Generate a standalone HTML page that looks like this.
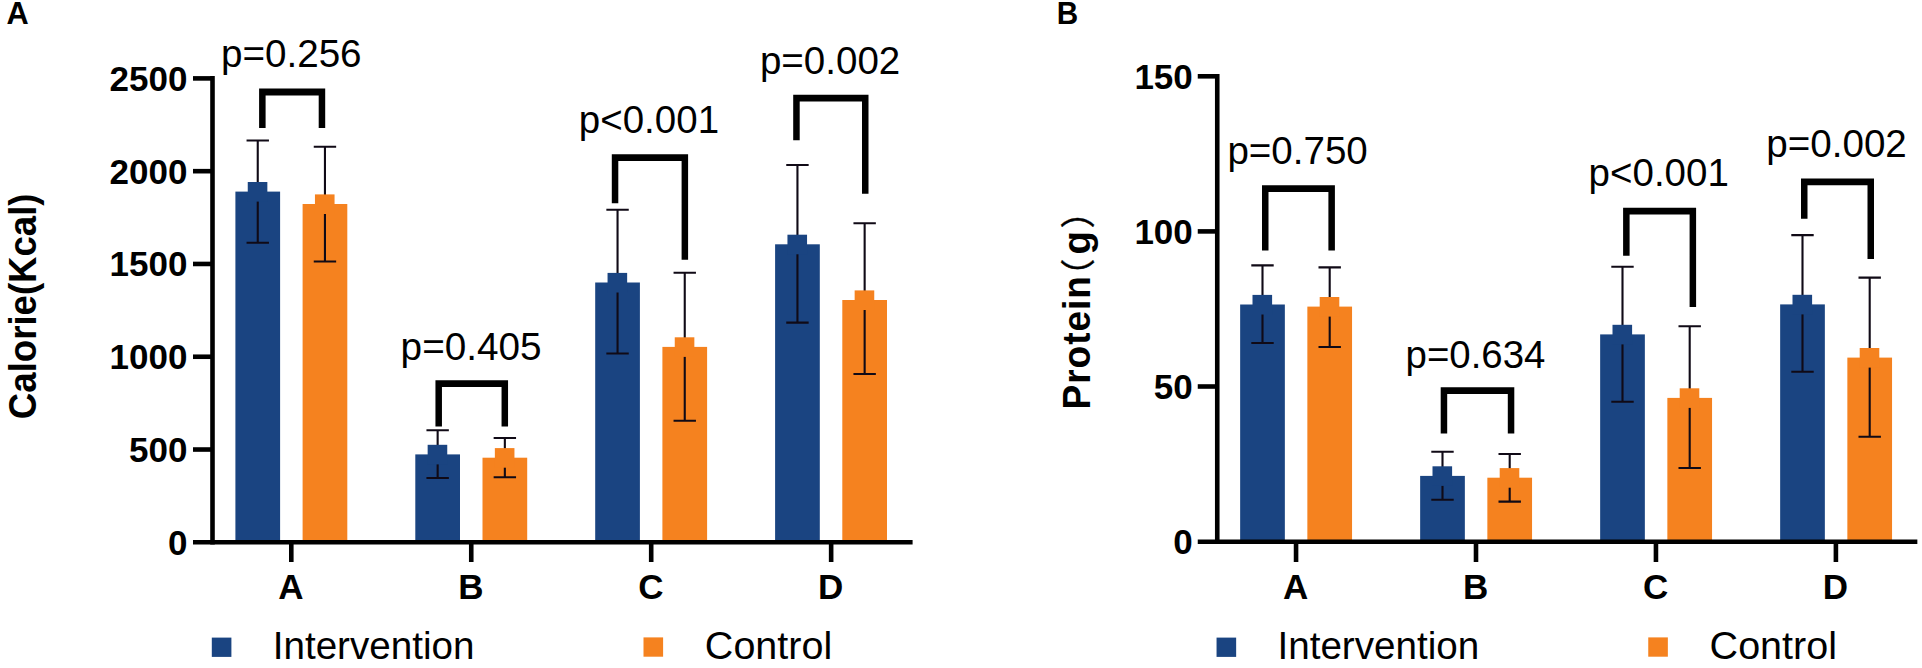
<!DOCTYPE html>
<html><head><meta charset="utf-8"><title>Figure</title>
<style>html,body{margin:0;padding:0;background:#fff}svg{display:block}text{font-family:"Liberation Sans","Noto Sans CJK SC",sans-serif;fill:#000}</style>
</head><body>
<svg width="1922" height="668" viewBox="0 0 1922 668">
<rect width="1922" height="668" fill="#fff"/>
<rect x="235.40" y="191.60" width="44.70" height="350.70" fill="#1a4481"/>
<path d="M257.75 140.50V242.75M246.55 140.50H268.95M246.55 242.75H268.95" stroke="#100a16" stroke-width="2.1" fill="none"/>
<rect x="247.75" y="182.00" width="19.6" height="19.6" fill="#1a4481"/>
<rect x="302.60" y="204.00" width="44.70" height="338.30" fill="#f5821f"/>
<path d="M324.95 146.75V261.50M313.75 146.75H336.15M313.75 261.50H336.15" stroke="#100a16" stroke-width="2.1" fill="none"/>
<rect x="314.95" y="194.40" width="19.6" height="19.6" fill="#f5821f"/>
<rect x="415.30" y="454.40" width="44.70" height="87.90" fill="#1a4481"/>
<path d="M437.65 430.30V478.00M426.45 430.30H448.85M426.45 478.00H448.85" stroke="#100a16" stroke-width="2.1" fill="none"/>
<rect x="427.65" y="444.80" width="19.6" height="19.6" fill="#1a4481"/>
<rect x="482.50" y="457.70" width="44.70" height="84.60" fill="#f5821f"/>
<path d="M504.85 438.00V477.20M493.65 438.00H516.05M493.65 477.20H516.05" stroke="#100a16" stroke-width="2.1" fill="none"/>
<rect x="494.85" y="448.10" width="19.6" height="19.6" fill="#f5821f"/>
<rect x="595.20" y="282.50" width="44.70" height="259.80" fill="#1a4481"/>
<path d="M617.55 209.70V353.50M606.35 209.70H628.75M606.35 353.50H628.75" stroke="#100a16" stroke-width="2.1" fill="none"/>
<rect x="607.55" y="272.90" width="19.6" height="19.6" fill="#1a4481"/>
<rect x="662.40" y="346.90" width="44.70" height="195.40" fill="#f5821f"/>
<path d="M684.75 272.80V420.70M673.55 272.80H695.95M673.55 420.70H695.95" stroke="#100a16" stroke-width="2.1" fill="none"/>
<rect x="674.75" y="337.30" width="19.6" height="19.6" fill="#f5821f"/>
<rect x="775.10" y="244.30" width="44.70" height="298.00" fill="#1a4481"/>
<path d="M797.45 165.00V322.60M786.25 165.00H808.65M786.25 322.60H808.65" stroke="#100a16" stroke-width="2.1" fill="none"/>
<rect x="787.45" y="234.70" width="19.6" height="19.6" fill="#1a4481"/>
<rect x="842.30" y="300.00" width="44.70" height="242.30" fill="#f5821f"/>
<path d="M864.65 223.30V374.00M853.45 223.30H875.85M853.45 374.00H875.85" stroke="#100a16" stroke-width="2.1" fill="none"/>
<rect x="854.65" y="290.40" width="19.6" height="19.6" fill="#f5821f"/>
<path d="M212.50 76.10V544.60" stroke="#000" stroke-width="4.6" fill="none"/>
<path d="M193.00 542.30H912.60" stroke="#000" stroke-width="4.6" fill="none"/>
<path d="M193.00 78.40H212.50" stroke="#000" stroke-width="4.6"/>
<path d="M193.00 171.18H212.50" stroke="#000" stroke-width="4.6"/>
<path d="M193.00 263.96H212.50" stroke="#000" stroke-width="4.6"/>
<path d="M193.00 356.74H212.50" stroke="#000" stroke-width="4.6"/>
<path d="M193.00 449.52H212.50" stroke="#000" stroke-width="4.6"/>
<path d="M291.30 542.30V562.00" stroke="#000" stroke-width="4.6"/>
<text transform="translate(290.90,598.50) scale(1.0000,1)" text-anchor="middle" font-size="35" font-weight="bold" >A</text>
<path d="M471.25 542.30V562.00" stroke="#000" stroke-width="4.6"/>
<text transform="translate(470.85,598.50) scale(1.0000,1)" text-anchor="middle" font-size="35" font-weight="bold" >B</text>
<path d="M651.20 542.30V562.00" stroke="#000" stroke-width="4.6"/>
<text transform="translate(650.80,598.50) scale(1.0000,1)" text-anchor="middle" font-size="35" font-weight="bold" >C</text>
<path d="M831.15 542.30V562.00" stroke="#000" stroke-width="4.6"/>
<text transform="translate(830.75,598.50) scale(1.0000,1)" text-anchor="middle" font-size="35" font-weight="bold" >D</text>
<text transform="translate(109.62,90.85) scale(1.0000,1)" font-size="35" font-weight="bold" >2500</text>
<text transform="translate(109.62,183.63) scale(1.0000,1)" font-size="35" font-weight="bold" >2000</text>
<text transform="translate(109.62,276.41) scale(1.0000,1)" font-size="35" font-weight="bold" >1500</text>
<text transform="translate(109.62,369.19) scale(1.0000,1)" font-size="35" font-weight="bold" >1000</text>
<text transform="translate(129.12,461.97) scale(1.0000,1)" font-size="35" font-weight="bold" >500</text>
<text transform="translate(168.00,554.75) scale(1.0000,1)" font-size="35" font-weight="bold" >0</text>
<path d="M259.10 128.00V88.60H325.20V128.00H318.70V95.40H265.60V128.00Z" fill="#000"/>
<path d="M435.45 426.40V380.20H508.05V426.40H501.55V387.00H441.95V426.40Z" fill="#000"/>
<path d="M611.80 203.30V154.30H688.10V259.80H681.60V161.10H618.30V203.30Z" fill="#000"/>
<path d="M793.20 140.30V94.80H868.50V193.70H862.00V101.60H799.70V140.30Z" fill="#000"/>
<text transform="translate(220.91,67.40) scale(0.9984,1)" font-size="38.7" fill="#000">p=0.256</text>
<text transform="translate(400.60,359.50) scale(1.0006,1)" font-size="38.7" fill="#000">p=0.405</text>
<text transform="translate(578.82,133.40) scale(0.9950,1)" font-size="38.7" fill="#000">p&lt;0.001</text>
<text transform="translate(759.91,73.70) scale(0.9958,1)" font-size="38.7" fill="#000">p=0.002</text>
<rect x="211.80" y="637.6" width="19.6" height="19.3" fill="#1a4481"/>
<rect x="643.50" y="637.4" width="19.6" height="19.3" fill="#f5821f"/>
<text transform="translate(272.71,658.60) scale(0.9903,1)" font-size="39" fill="#000">Intervention</text>
<text transform="translate(704.87,658.50) scale(1.0132,1)" font-size="39" fill="#000">Control</text>
<rect x="1240.15" y="304.50" width="44.70" height="237.20" fill="#1a4481"/>
<path d="M1262.50 265.40V343.00M1251.30 265.40H1273.70M1251.30 343.00H1273.70" stroke="#100a16" stroke-width="2.1" fill="none"/>
<rect x="1252.50" y="294.90" width="19.6" height="19.6" fill="#1a4481"/>
<rect x="1307.35" y="306.60" width="44.70" height="235.10" fill="#f5821f"/>
<path d="M1329.70 267.40V347.00M1318.50 267.40H1340.90M1318.50 347.00H1340.90" stroke="#100a16" stroke-width="2.1" fill="none"/>
<rect x="1319.70" y="297.00" width="19.6" height="19.6" fill="#f5821f"/>
<rect x="1420.15" y="475.90" width="44.70" height="65.80" fill="#1a4481"/>
<path d="M1442.50 451.80V499.70M1431.30 451.80H1453.70M1431.30 499.70H1453.70" stroke="#100a16" stroke-width="2.1" fill="none"/>
<rect x="1432.50" y="466.30" width="19.6" height="19.6" fill="#1a4481"/>
<rect x="1487.35" y="477.70" width="44.70" height="64.00" fill="#f5821f"/>
<path d="M1509.70 454.00V501.60M1498.50 454.00H1520.90M1498.50 501.60H1520.90" stroke="#100a16" stroke-width="2.1" fill="none"/>
<rect x="1499.70" y="468.10" width="19.6" height="19.6" fill="#f5821f"/>
<rect x="1600.15" y="334.40" width="44.70" height="207.30" fill="#1a4481"/>
<path d="M1622.50 266.70V401.80M1611.30 266.70H1633.70M1611.30 401.80H1633.70" stroke="#100a16" stroke-width="2.1" fill="none"/>
<rect x="1612.50" y="324.80" width="19.6" height="19.6" fill="#1a4481"/>
<rect x="1667.35" y="397.90" width="44.70" height="143.80" fill="#f5821f"/>
<path d="M1689.70 326.30V468.00M1678.50 326.30H1700.90M1678.50 468.00H1700.90" stroke="#100a16" stroke-width="2.1" fill="none"/>
<rect x="1679.70" y="388.30" width="19.6" height="19.6" fill="#f5821f"/>
<rect x="1780.15" y="304.40" width="44.70" height="237.30" fill="#1a4481"/>
<path d="M1802.50 235.10V371.80M1791.30 235.10H1813.70M1791.30 371.80H1813.70" stroke="#100a16" stroke-width="2.1" fill="none"/>
<rect x="1792.50" y="294.80" width="19.6" height="19.6" fill="#1a4481"/>
<rect x="1847.35" y="357.60" width="44.70" height="184.10" fill="#f5821f"/>
<path d="M1869.70 277.60V436.80M1858.50 277.60H1880.90M1858.50 436.80H1880.90" stroke="#100a16" stroke-width="2.1" fill="none"/>
<rect x="1859.70" y="348.00" width="19.6" height="19.6" fill="#f5821f"/>
<path d="M1217.25 74.00V544.00" stroke="#000" stroke-width="4.6" fill="none"/>
<path d="M1197.75 541.70H1917.35" stroke="#000" stroke-width="4.6" fill="none"/>
<path d="M1197.75 76.30H1217.25" stroke="#000" stroke-width="4.6"/>
<path d="M1197.75 231.40H1217.25" stroke="#000" stroke-width="4.6"/>
<path d="M1197.75 386.50H1217.25" stroke="#000" stroke-width="4.6"/>
<path d="M1296.05 541.70V562.00" stroke="#000" stroke-width="4.6"/>
<text transform="translate(1295.65,598.50) scale(1.0000,1)" text-anchor="middle" font-size="35" font-weight="bold" >A</text>
<path d="M1476.00 541.70V562.00" stroke="#000" stroke-width="4.6"/>
<text transform="translate(1475.60,598.50) scale(1.0000,1)" text-anchor="middle" font-size="35" font-weight="bold" >B</text>
<path d="M1655.95 541.70V562.00" stroke="#000" stroke-width="4.6"/>
<text transform="translate(1655.55,598.50) scale(1.0000,1)" text-anchor="middle" font-size="35" font-weight="bold" >C</text>
<path d="M1835.90 541.70V562.00" stroke="#000" stroke-width="4.6"/>
<text transform="translate(1835.50,598.50) scale(1.0000,1)" text-anchor="middle" font-size="35" font-weight="bold" >D</text>
<text transform="translate(1134.38,88.75) scale(1.0000,1)" font-size="35" font-weight="bold" >150</text>
<text transform="translate(1134.38,243.85) scale(1.0000,1)" font-size="35" font-weight="bold" >100</text>
<text transform="translate(1153.75,398.95) scale(1.0000,1)" font-size="35" font-weight="bold" >50</text>
<text transform="translate(1173.25,554.05) scale(1.0000,1)" font-size="35" font-weight="bold" >0</text>
<path d="M1262.00 250.50V185.20H1334.90V250.50H1328.40V192.00H1268.50V250.50Z" fill="#000"/>
<path d="M1440.70 433.50V387.20H1514.30V433.50H1507.80V394.00H1447.20V433.50Z" fill="#000"/>
<path d="M1623.10 255.80V207.70H1696.10V306.90H1689.60V214.50H1629.60V255.80Z" fill="#000"/>
<path d="M1801.00 218.70V178.40H1874.00V259.10H1867.50V185.20H1807.50V218.70Z" fill="#000"/>
<text transform="translate(1227.41,163.90) scale(0.9960,1)" font-size="38.7" fill="#000">p=0.750</text>
<text transform="translate(1405.52,367.60) scale(0.9926,1)" font-size="38.7" fill="#000">p=0.634</text>
<text transform="translate(1588.62,186.40) scale(0.9950,1)" font-size="38.7" fill="#000">p&lt;0.001</text>
<text transform="translate(1766.31,157.40) scale(0.9973,1)" font-size="38.7" fill="#000">p=0.002</text>
<rect x="1216.55" y="637.6" width="19.6" height="19.3" fill="#1a4481"/>
<rect x="1648.25" y="637.4" width="19.6" height="19.3" fill="#f5821f"/>
<text transform="translate(1277.46,658.60) scale(0.9903,1)" font-size="39" fill="#000">Intervention</text>
<text transform="translate(1709.62,658.50) scale(1.0132,1)" font-size="39" fill="#000">Control</text>
<text transform="translate(6.46,23.90) scale(0.9928,1)" font-size="31" font-weight="bold" fill="#000">A</text>
<text transform="translate(1056.76,23.90) scale(0.9589,1)" font-size="31" font-weight="bold" fill="#000">B</text>
<text transform="translate(36.20,306.30) rotate(-90) scale(1.0,1.05)" text-anchor="middle" font-size="36.6" font-weight="bold">Calorie(Kcal)</text>
<text transform="translate(1090.4,409.5) rotate(-90) scale(1,1.04)" font-size="37" letter-spacing="1" font-weight="bold">Protein</text>
<text transform="translate(1090.8,293.2) rotate(-90)" font-size="34.7" stroke="#000" stroke-width="0.4">（</text>
<text transform="translate(1090.4,254.6) rotate(-90) scale(1.04,1.04)" font-size="37" font-weight="bold">g</text>
<text transform="translate(1090.8,228.6) rotate(-90)" font-size="34.7" stroke="#000" stroke-width="0.4">）</text>
</svg>
</body></html>
